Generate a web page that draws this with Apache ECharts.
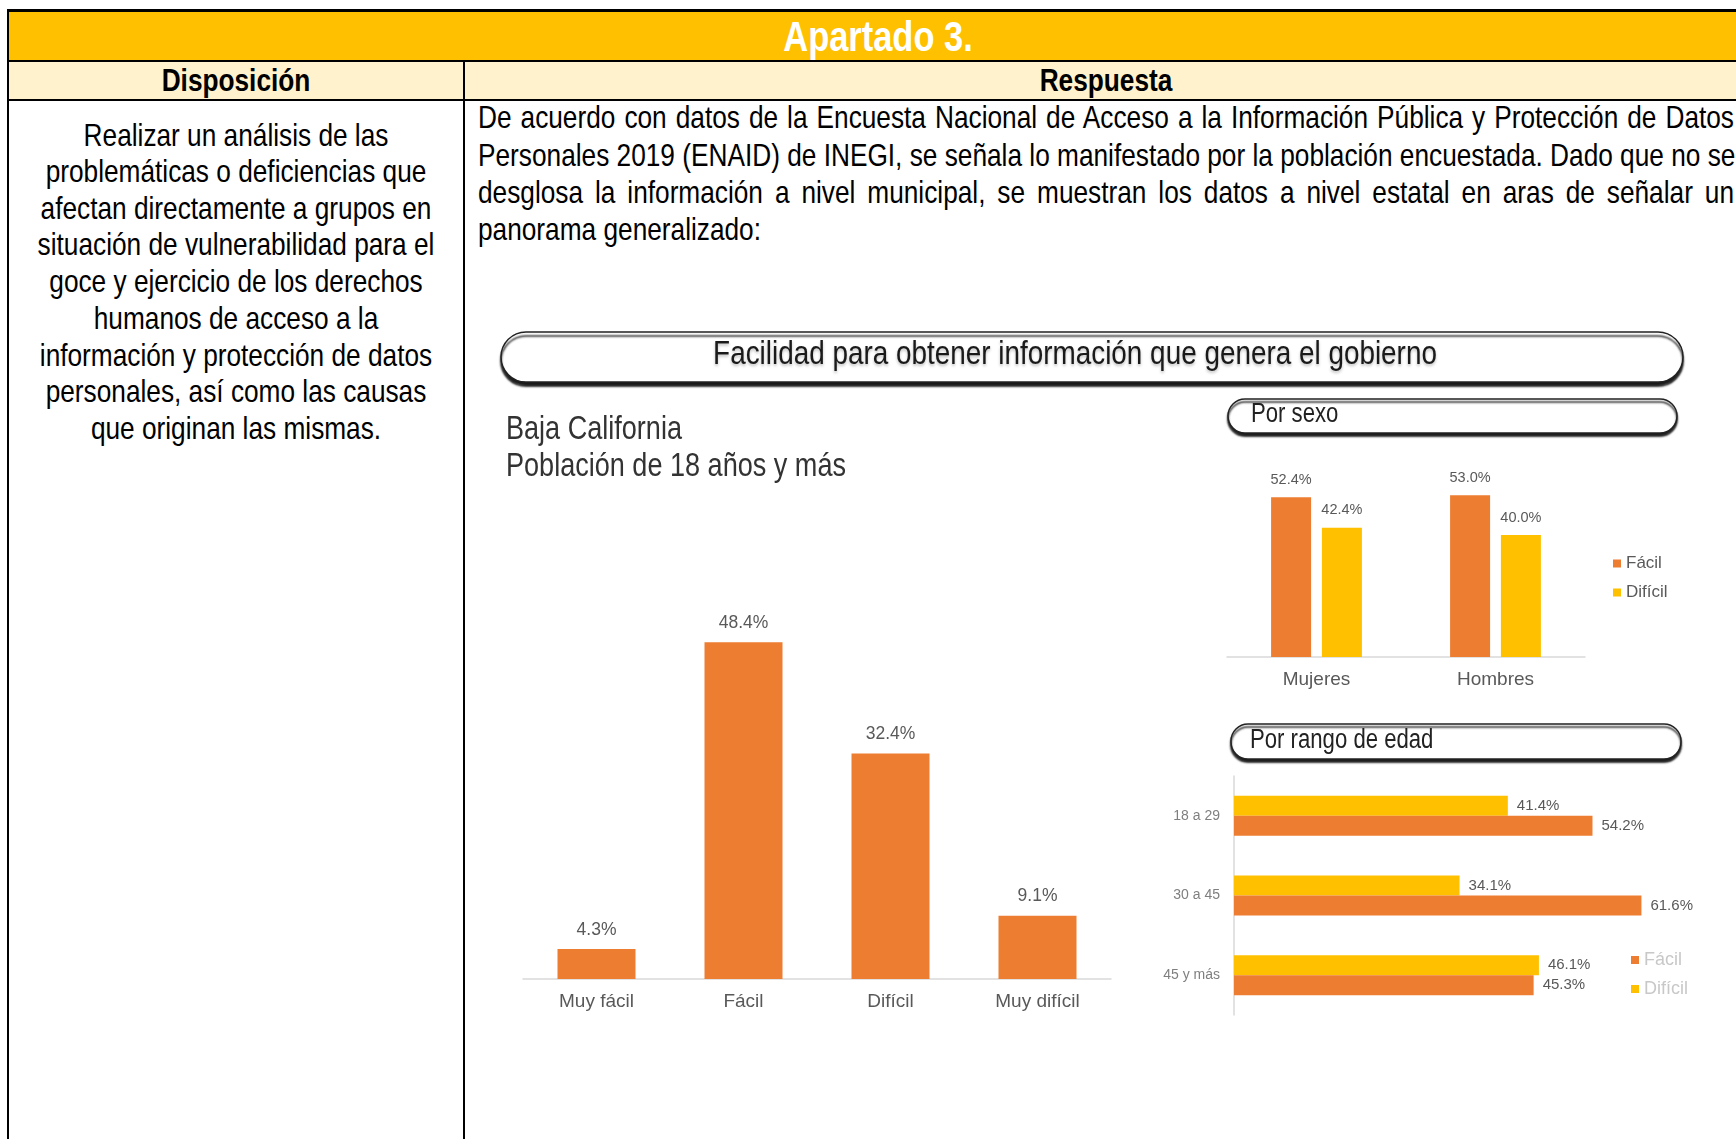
<!DOCTYPE html>
<html><head><meta charset="utf-8">
<script src="https://cdn.jsdelivr.net/npm/echarts@6/dist/echarts.min.js"></script>
<style>
html,body{margin:0;padding:0;background:#fff;width:1736px;height:1139px;overflow:hidden;}
.abs{position:absolute;box-sizing:border-box;}
.nar{font-family:"Liberation Sans",Arial,sans-serif;}
.ln{position:absolute;background:#000;}
.lc{position:absolute;left:-64px;width:600px;text-align:center;font-size:32px;color:#000;white-space:nowrap;line-height:37px;transform:scaleX(0.82);transform-origin:50% 50%;}
.rp{position:absolute;left:478px;width:1531.7px;font-size:32px;color:#000;line-height:38px;white-space:nowrap;transform:scaleX(0.82);transform-origin:0 50%;}
.just{text-align:justify;text-align-last:justify;}
.hd{position:absolute;text-align:center;white-space:nowrap;font-weight:bold;transform:scaleX(0.82);transform-origin:50% 50%;}
#chart{position:absolute;left:0;top:0;width:1736px;height:1139px;}
</style></head>
<body>
<div class="abs" style="left:8px;top:10px;width:1740px;height:51px;background:#FFC000;"></div>
<div class="abs" style="left:8px;top:61px;width:1740px;height:39px;background:#FFF2CC;"></div>
<div class="ln" style="left:7px;top:9px;width:1740px;height:3px;"></div>
<div class="ln" style="left:7px;top:60px;width:1740px;height:2px;"></div>
<div class="ln" style="left:7px;top:99px;width:1740px;height:2px;"></div>
<div class="ln" style="left:7px;top:9px;width:2px;height:1140px;"></div>
<div class="ln" style="left:463px;top:60px;width:2px;height:1080px;"></div>
<div class="hd nar" style="left:8px;top:11px;width:1740px;height:51px;line-height:51px;color:#fff;font-size:42px;">Apartado 3.</div>
<div class="hd nar" style="left:8px;top:61px;width:456px;height:39px;line-height:39px;color:#000;font-size:32px;">Disposición</div>
<div class="hd nar" style="left:464px;top:61px;width:1284px;height:39px;line-height:39px;color:#000;font-size:32px;">Respuesta</div>

<div class="lc nar" style="top:117px;">Realizar un análisis de las</div>
<div class="lc nar" style="top:153px;">problemáticas o deficiencias que</div>
<div class="lc nar" style="top:190px;">afectan directamente a grupos en</div>
<div class="lc nar" style="top:226px;">situación de vulnerabilidad para el</div>
<div class="lc nar" style="top:263px;">goce y ejercicio de los derechos</div>
<div class="lc nar" style="top:300px;">humanos de acceso a la</div>
<div class="lc nar" style="top:337px;">información y protección de datos</div>
<div class="lc nar" style="top:373px;">personales, así como las causas</div>
<div class="lc nar" style="top:410px;">que originan las mismas.</div>

<div class="rp nar just" style="top:98px;">De acuerdo con datos de la Encuesta Nacional de Acceso a la Información Pública y Protección de Datos</div>
<div class="rp nar just" style="top:136px;">Personales 2019 (ENAID) de INEGI, se señala lo manifestado por la población encuestada. Dado que no se</div>
<div class="rp nar just" style="top:173px;">desglosa la información a nivel municipal, se muestran los datos a nivel estatal en aras de señalar un</div>
<div class="rp nar" style="top:210px;">panorama generalizado:</div>

<div id="chart"></div>
<script>
const mainCategories = ['Muy fácil', 'Fácil', 'Difícil', 'Muy difícil'];
const mainValues = [4.3, 48.4, 32.4, 9.1];
const sexCategories = ['Mujeres', 'Hombres'];
const sexFacil = [52.4, 53.0];
const sexDificil = [42.4, 40.0];
const ageCategories = ['18 a 29', '30 a 45', '45 y más'];
const ageFacil = [54.2, 61.6, 45.3];
const ageDificil = [41.4, 34.1, 46.1];
const legendNames = ['Fácil', 'Difícil'];

const ORANGE = '#ED7D31', GOLD = '#FFC000', GREY = '#595959';
const SANS = '"Liberation Sans", Arial, sans-serif';
const NX = 0.82;
const pct = p => p.value.toFixed(1) + '%';

const chart = echarts.init(document.getElementById('chart'), null, {renderer: 'canvas'});
chart.setOption({
  backgroundColor: 'transparent',
  animation: false,
  textStyle: {fontFamily: SANS},
  grid: [
    {left: 523, top: 631, width: 588, height: 348},
    {left: 1227, top: 474, width: 358, height: 183},
    {left: 1234, top: 776, width: 463, height: 239}
  ],
  xAxis: [
    {gridIndex: 0, type: 'category', data: mainCategories,
     axisLine: {lineStyle: {color: '#D9D9D9', width: 1.5}}, axisTick: {show: false},
     axisLabel: {color: GREY, fontSize: 19, margin: 13}},
    {gridIndex: 1, type: 'category', data: sexCategories,
     axisLine: {lineStyle: {color: '#D9D9D9', width: 1.5}}, axisTick: {show: false},
     axisLabel: {color: GREY, fontSize: 19, margin: 13}},
    {gridIndex: 2, type: 'value', min: 0, max: 70, show: false}
  ],
  yAxis: [
    {gridIndex: 0, type: 'value', min: 0, max: 50, show: false},
    {gridIndex: 1, type: 'value', min: 0, max: 60, show: false},
    {gridIndex: 2, type: 'category', data: ageCategories, inverse: true,
     axisLine: {lineStyle: {color: '#D9D9D9', width: 1.5}}, axisTick: {show: false},
     axisLabel: {color: '#7F7F7F', fontSize: 14, margin: 14}}
  ],
  legend: [
    {data: legendNames, orient: 'vertical', left: 1608, top: 550, itemWidth: 8, itemHeight: 8,
     icon: 'rect', itemGap: 12, textStyle: {color: GREY, fontSize: 17}},
    {data: legendNames, orient: 'vertical', left: 1626, top: 946, itemWidth: 8, itemHeight: 8,
     icon: 'rect', itemGap: 11, textStyle: {color: '#C8C8C8', fontSize: 18}}
  ],
  series: [
    {type: 'bar', name: 'Total', xAxisIndex: 0, yAxisIndex: 0, data: mainValues, barWidth: 78,
     itemStyle: {color: ORANGE},
     label: {show: true, position: 'top', distance: 10, color: GREY, fontSize: 17.5, formatter: pct}},
    {type: 'bar', name: 'Fácil', xAxisIndex: 1, yAxisIndex: 1, data: sexFacil, barWidth: 40, barGap: '27%',
     itemStyle: {color: ORANGE},
     label: {show: true, position: 'top', distance: 10, color: GREY, fontSize: 14.5, formatter: pct}},
    {type: 'bar', name: 'Difícil', xAxisIndex: 1, yAxisIndex: 1, data: sexDificil, barWidth: 40, barGap: '27%',
     itemStyle: {color: GOLD},
     label: {show: true, position: 'top', distance: 10, color: GREY, fontSize: 14.5, formatter: pct}},
    {type: 'bar', name: 'Difícil', xAxisIndex: 2, yAxisIndex: 2, data: ageDificil, barWidth: 20, barGap: '0%',
     itemStyle: {color: GOLD},
     label: {show: true, position: 'right', distance: 9, color: GREY, fontSize: 15, formatter: pct}},
    {type: 'bar', name: 'Fácil', xAxisIndex: 2, yAxisIndex: 2, data: ageFacil, barWidth: 20, barGap: '0%',
     itemStyle: {color: ORANGE},
     label: {show: true, position: 'right', distance: 9, color: GREY, fontSize: 15, formatter: pct}}
  ],
  graphic: [
    {type: 'rect', shape: {x: 501, y: 332, width: 1182, height: 50, r: 25}, z: 1,
     style: {fill: '#fff', stroke: '#222', lineWidth: 1.5, shadowColor: 'rgba(0,0,0,0.9)', shadowOffsetY: 4, shadowBlur: 2}},
    {type: 'text', x: 1075, y: 355, z: 2, scaleX: NX,
     style: {text: 'Facilidad para obtener información que genera el gobierno', fill: '#1A1A1A', font: '34px ' + SANS,
             textAlign: 'center', textVerticalAlign: 'middle', textShadowColor: 'rgba(0,0,0,0.25)', textShadowBlur: 3, textShadowOffsetY: 2}},
    {type: 'rect', shape: {x: 1228, y: 399, width: 449, height: 34, r: 17}, z: 1,
     style: {fill: '#fff', stroke: '#222', lineWidth: 1.5, shadowColor: 'rgba(0,0,0,0.9)', shadowOffsetY: 3, shadowBlur: 2}},
    {type: 'text', x: 1251, y: 415, z: 2, scaleX: NX,
     style: {text: 'Por sexo', fill: '#222', font: '27px ' + SANS, textAlign: 'left', textVerticalAlign: 'middle'}},
    {type: 'rect', shape: {x: 1231, y: 724, width: 450, height: 35, r: 17}, z: 1,
     style: {fill: '#fff', stroke: '#222', lineWidth: 1.5, shadowColor: 'rgba(0,0,0,0.9)', shadowOffsetY: 3, shadowBlur: 2}},
    {type: 'text', x: 1250, y: 741, z: 2, scaleX: NX,
     style: {text: 'Por rango de edad', fill: '#222', font: '27px ' + SANS, textAlign: 'left', textVerticalAlign: 'middle'}},
    {type: 'text', x: 506, y: 430, z: 2, scaleX: NX,
     style: {text: 'Baja California', fill: '#333', font: '33px ' + SANS, textAlign: 'left', textVerticalAlign: 'middle'}},
    {type: 'text', x: 506, y: 467, z: 2, scaleX: NX,
     style: {text: 'Población de 18 años y más', fill: '#333', font: '33px ' + SANS, textAlign: 'left', textVerticalAlign: 'middle'}}
  ]
});
</script>
</body></html>
